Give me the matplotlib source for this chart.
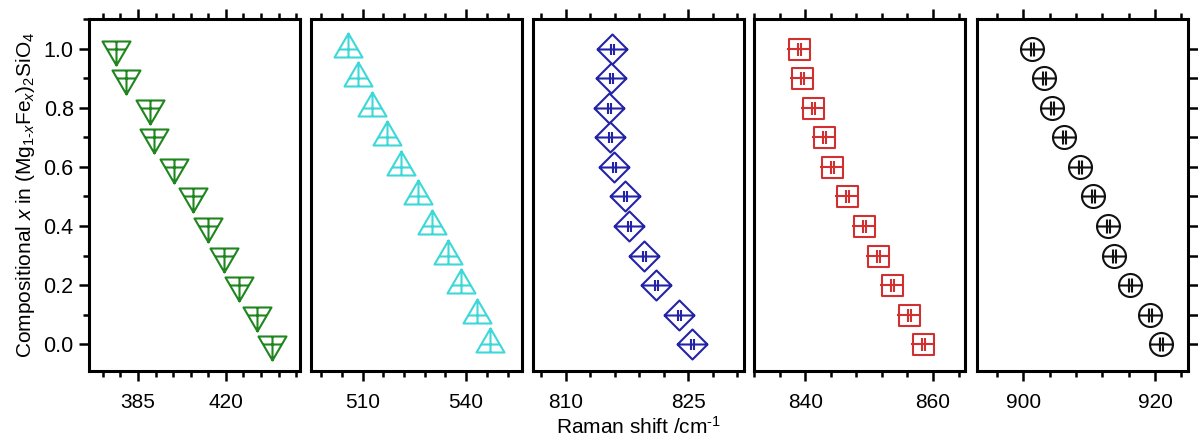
import numpy as np
import matplotlib
matplotlib.use("Agg")
import matplotlib.pyplot as plt
from matplotlib.path import Path
from matplotlib.ticker import MultipleLocator

plt.rcParams['font.family'] = ['Liberation Sans', 'DejaVu Sans']
plt.rcParams['mathtext.fontset'] = 'custom'
plt.rcParams['mathtext.rm'] = 'Liberation Sans'
plt.rcParams['mathtext.it'] = 'Liberation Sans:italic'

# Fe content of the olivine series, top to bottom
x_fe = [1.0, 0.9, 0.8, 0.7, 0.6, 0.5, 0.4, 0.3, 0.2, 0.1, 0.0]

# Raman band positions (cm-1) for each band
band_1 = [376.1, 380.2, 389.8, 391.5, 399.3, 406.8, 412.8, 419.3, 425.4, 432.3, 438.3]
band_2 = [505.8, 508.6, 512.7, 517.0, 521.2, 526.0, 530.1, 534.8, 538.5, 543.1, 547.0]
band_3 = [815.6, 815.5, 815.3, 815.4, 815.9, 817.2, 817.7, 819.6, 821.0, 823.9, 825.5]
band_4 = [839.0, 839.5, 841.2, 842.9, 844.2, 846.5, 849.2, 851.4, 853.6, 856.2, 858.4]
band_5 = [901.4, 903.1, 904.35, 906.2, 908.65, 910.65, 912.8, 913.85, 916.25, 919.2, 920.85]

bands = [band_1, band_2, band_3, band_4, band_5]
xlims = [(365.5, 449.5), (495, 556.2), (806, 831.8), (832, 865), (893, 925)]
major_steps = [35, 30, 15, 20, 20]
minor_steps = [7, 6, 3, 4, 4]
colors = ['#1f861f', '#3ed8d8', '#2323a8', '#d23030', '#111111']


def seg(p0, p1):
    return Path([p0, p1], [Path.MOVETO, Path.LINETO])


def compound(outline, lines):
    # outline plus inner cross / bar lines, sizes in pixels
    return Path.make_compound_path(outline, *[seg(a, b) for a, b in lines])


def triangle(flip):
    s = -1 if flip else 1
    tri = Path([(0, 16 * s), (-14, -8 * s), (14, -8 * s), (0, 16 * s)],
               [Path.MOVETO, Path.LINETO, Path.LINETO, Path.CLOSEPOLY])
    return compound(tri, [((-9.3, 0), (9.3, 0)), ((0, -8 * s), (0, 16 * s))])


def bars(r, h):
    return [((-r, 0), (r, 0)), ((-1.5, -h), (-1.5, h)), ((1.5, -h), (1.5, h))]


diamond = compound(Path([(0, 15), (15, 0), (0, -15), (-15, 0), (0, 15)],
                        [Path.MOVETO] + [Path.LINETO] * 3 + [Path.CLOSEPOLY]),
                   bars(15, 5.5))
square = compound(Path([(-10.5, -10.5), (10.5, -10.5), (10.5, 10.5), (-10.5, 10.5), (-10.5, -10.5)],
                       [Path.MOVETO] + [Path.LINETO] * 3 + [Path.CLOSEPOLY]),
                  bars(12, 6.5))
circle = compound(Path.circle((0, 0), 11.5), bars(11.5, 7))

markers = [triangle(True), triangle(False), diamond, square, circle]

fig = plt.figure(figsize=(11.98, 4.4), dpi=100)
W, H = 1198, 440
lefts = [89, 311, 533, 754, 977]

for i, (left, band) in enumerate(zip(lefts, bands)):
    ax = fig.add_axes([left / W, 1 - 371 / H, 211 / W, 352 / H])
    m = markers[i]
    size = 2 * np.abs(m.vertices).max() * 0.72
    ax.plot(band, x_fe, linestyle='none', marker=m, markersize=size,
            markerfacecolor='none', markeredgecolor=colors[i], markeredgewidth=1.5)
    ax.set_xlim(*xlims[i])
    ax.set_ylim(-0.09, 1.1)
    ax.xaxis.set_major_locator(MultipleLocator(major_steps[i]))
    ax.xaxis.set_minor_locator(MultipleLocator(minor_steps[i]))
    for sp in ax.spines.values():
        sp.set_linewidth(2.2)
    ax.tick_params(axis='x', which='both', direction='out', top=True,
                   labeltop=False, width=1.8, labelsize=15, pad=8)
    ax.tick_params(axis='x', which='major', length=7.5)
    ax.tick_params(axis='x', which='minor', length=4)
    if i == 0:
        ax.yaxis.set_major_locator(MultipleLocator(0.2))
        ax.yaxis.set_minor_locator(MultipleLocator(0.1))
        ax.yaxis.set_major_formatter(plt.FormatStrFormatter('%.1f'))
        ax.tick_params(axis='y', which='both', direction='out', width=1.8,
                       labelsize=15.5, pad=4)
        ax.tick_params(axis='y', which='major', length=7)
        ax.tick_params(axis='y', which='minor', length=4)
        ax.set_ylabel(r'Compositional $\it{x}$ in (Mg$_{1\text{-}\it{x}}$Fe$_{\it{x}}$)$_2$SiO$_4$',
                      fontsize=15, labelpad=5)
    elif i == 4:
        ax.set_yticks(x_fe)
        ax.tick_params(axis='y', direction='out', left=False, right=True,
                       labelleft=False, labelright=False, width=1.8, length=7)
    else:
        ax.tick_params(axis='y', which='both', left=False, right=False, labelleft=False)
    if i == 2:
        ax.set_xlabel(r'Raman shift /cm$^{\text{-}1}$', fontsize=15, labelpad=3)

fig.savefig('out.png', dpi=100)
